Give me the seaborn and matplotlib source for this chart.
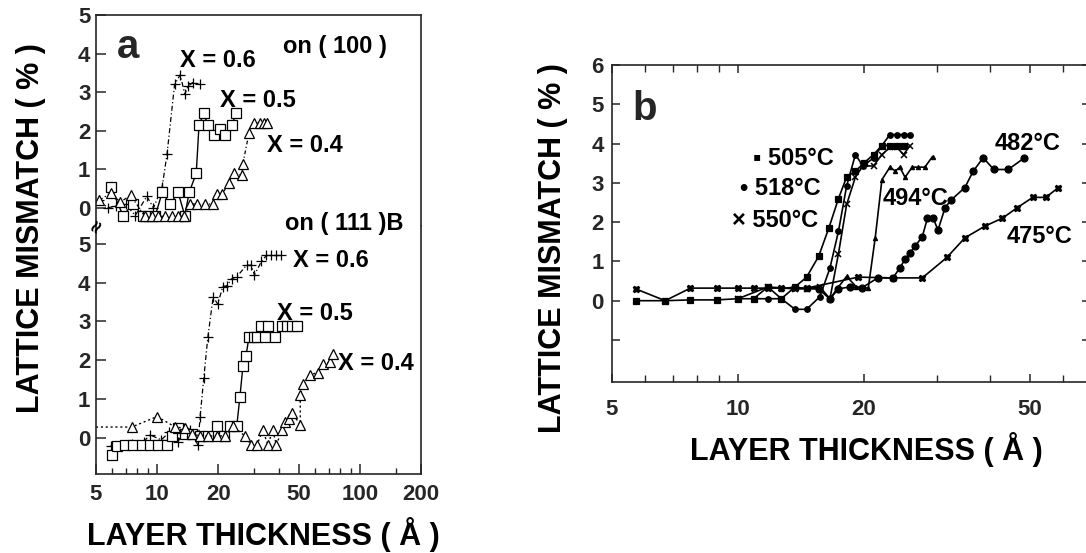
import numpy as np
import pandas as pd
import matplotlib
matplotlib.use("Agg")
import matplotlib.pyplot as plt
import seaborn as sns
from matplotlib.ticker import FixedLocator, FixedFormatter, NullFormatter

# ---------------- data: panel a, on (100) ----------------
a100_x06 = [5.2, 5.7, 6.3, 7.0, 7.8, 8.9, 9.6, 10.6, 11.2, 12.2, 13.0, 13.7, 14.2, 15.0, 16.3]
a100_y06 = [0.2, 0.0, 0.05, 0.1, -0.2, 0.3, 0.0, 0.55, 1.4, 3.2, 3.45, 2.95, 3.15, 3.25, 3.2]
a100_x05 = [5.9, 6.8, 7.6, 8.5, 9.0, 9.8, 10.6, 11.6, 12.7, 13.7, 14.4, 15.6, 16.1, 17.0, 17.8,
            19.1, 20.4, 21.6, 23.4, 24.5]
a100_y05 = [0.55, -0.2, 0.1, -0.2, -0.2, -0.2, 0.4, 0.1, 0.4, -0.2, 0.4, 0.9, 2.15, 2.45, 2.15,
            1.9, 2.05, 1.9, 2.15, 2.45]
a100_x04 = [5.2, 5.9, 6.6, 7.4, 8.7, 9.4, 10.1, 10.9, 11.8, 12.7, 13.6, 14.5, 15.7, 17.2, 18.9,
            19.7, 21.0, 22.5, 23.9, 26.2, 26.5, 28.4, 30.0, 32.0, 33.5, 35.0]
a100_y04 = [0.2, 0.38, 0.15, 0.33, -0.22, -0.22, -0.22, -0.22, -0.22, -0.22, -0.22, 0.1, 0.1, 0.1, 0.1,
            0.36, 0.36, 0.64, 0.9, 0.85, 1.15, 1.95, 2.2, 2.2, 2.2, 2.2]

# ---------------- data: panel a, on (111)B ----------------
a111_x06 = [5.9, 6.5, 7.5, 8.6, 9.2, 10.5, 11.5, 12.7, 13.6, 14.5, 15.9, 16.3, 17.0, 17.8, 18.9,
            19.9, 21.1, 22.1, 23.3, 24.7, 27.6, 29.1, 30.2, 32.7, 34.6, 36.6, 38.7, 41.0]
a111_y06 = [-0.2, -0.2, -0.15, -0.1, 0.08, -0.05, 0.15, -0.1, 0.25, 0.2, -0.18, 0.55, 1.55, 2.6, 3.63,
            3.45, 3.9, 3.92, 4.1, 4.15, 4.45, 4.45, 4.2, 4.55, 4.7, 4.7, 4.7, 4.7]
a111_x05 = [6.0, 6.35, 6.95, 7.6, 8.4, 9.2, 10.1, 11.2, 11.8, 12.7, 13.7, 14.8, 16.3, 17.8, 19.7,
            21.3, 22.9, 24.7, 25.6, 26.5, 27.4, 28.4, 30.0, 31.1, 32.4, 33.9, 35.2, 38.1, 41.3,
            43.8, 46.2, 48.9]
a111_y05 = [-0.44, -0.22, -0.18, -0.18, -0.18, -0.18, -0.18, -0.18, 0.05, 0.25, 0.1, 0.1, 0.05, 0.05, 0.3,
            0.05, 0.3, 0.3, 1.05, 1.85, 2.1, 2.6, 2.6, 2.6, 2.88, 2.6, 2.88, 2.6, 2.88,
            2.88, 2.88, 2.88]
a111_x04 = [5.0, 7.5, 10.0, 12.3, 13.7, 14.8, 16.3, 17.8, 19.7, 21.6, 23.7, 27.1, 29.1, 31.1, 33.2,
            35.2, 37.2, 38.7, 41.3, 42.7, 44.8, 46.2, 50.8, 50.8, 52.5, 56.7, 62.2, 65.8, 71.0, 73.5]
a111_y04 = [0.28, 0.28, 0.55, 0.28, 0.25, 0.1, 0.05, 0.05, 0.05, 0.05, 0.3, 0.05, -0.18, -0.18, 0.2,
            -0.18, 0.2, -0.18, 0.2, 0.4, 0.5, 0.65, 0.34, 1.1, 1.38, 1.63, 1.68, 1.9, 1.95, 2.15]

# ---------------- data: panel b (growth temperature) ----------------
b505_x = [5.7, 6.7, 7.7, 8.9, 10.0, 10.9, 11.8, 12.7, 13.7, 14.6, 15.6, 16.5, 17.4, 18.2, 19.1,
          20.0, 21.1, 22.1, 23.1, 24.0, 24.9]
b505_y = [0.0, 0.0, 0.02, 0.02, 0.05, 0.05, 0.35, 0.05, 0.35, 0.6, 1.13, 1.85, 2.6, 3.15, 3.3,
          3.5, 3.72, 3.95, 3.95, 3.95, 3.95]
b518_x = [10.9, 11.8, 12.7, 13.7, 14.6, 15.7, 16.6, 17.4, 18.2, 19.1, 19.9, 21.1, 22.1, 23.1, 24.0,
          24.9, 25.8]
b518_y = [0.05, 0.05, 0.05, -0.22, -0.22, 0.1, 0.83, 1.77, 2.92, 3.72, 3.43, 3.63, 3.95, 4.23, 4.23,
          4.23, 4.23]
b550_x = [10.0, 11.8, 13.7, 14.6, 15.7, 16.6, 17.4, 18.2, 19.1, 19.9, 21.1, 22.1, 23.1, 24.0, 24.9, 25.8]
b550_y = [0.05, 0.35, 0.3, 0.3, 0.35, 0.05, 1.2, 2.45, 3.15, 3.43, 3.43, 3.72, 3.9, 3.9, 3.72, 3.95]
b494_x = [12.7, 13.7, 14.6, 15.6, 16.6, 17.4, 18.2, 19.2, 20.5, 21.3, 22.1, 23.1, 23.8, 24.4, 25.1,
          26.1, 27.0, 28.0, 29.2]
b494_y = [0.3, 0.35, 0.3, 0.3, 0.05, 0.35, 0.62, 0.35, 0.32, 1.6, 3.08, 3.4, 3.3, 3.4, 3.14,
          3.4, 3.4, 3.4, 3.67]
b482_x = [15.6, 16.6, 17.4, 18.5, 19.8, 21.6, 23.5, 24.4, 25.1, 25.8, 26.5, 27.6, 28.4, 29.3, 30.1,
          31.3, 32.4, 34.9, 36.5, 38.6, 40.9, 44.3, 48.2]
b482_y = [0.3, 0.05, 0.3, 0.35, 0.33, 0.58, 0.58, 0.84, 1.05, 1.22, 1.38, 1.63, 2.1, 2.1, 1.8,
          2.37, 2.57, 2.88, 3.29, 3.64, 3.34, 3.34, 3.62]
b475_x = [5.7, 6.7, 7.7, 8.9, 10.0, 10.9, 11.8, 12.7, 13.7, 14.6, 19.4, 23.5, 27.6, 31.6, 34.9,
          39.0, 42.9, 46.6, 50.7, 54.5, 58.4]
b475_y = [0.3, 0.0, 0.32, 0.32, 0.32, 0.32, 0.32, 0.32, 0.32, 0.32, 0.6, 0.58, 0.58, 1.1, 1.6,
          1.9, 2.1, 2.37, 2.63, 2.63, 2.88]

a_xticks = [5, 10, 20, 50, 100, 200]
b_xticks = [5, 10, 20, 50]
a_yticks = [0, 1, 2, 3, 4, 5]
b_yticks = [0, 1, 2, 3, 4, 5, 6]

# ---------------- style ----------------
sns.set_theme(style="ticks")
plt.rcParams["font.family"] = ["Liberation Sans", "DejaVu Sans"]
plt.rcParams["font.weight"] = "bold"
plt.rcParams["axes.linewidth"] = 1.2

W, H = 1086, 553
fig = plt.figure(figsize=(W / 100, H / 100), dpi=100)
fig.patch.set_facecolor("white")


def rect(l, t, r, b):
    return [l / W, 1 - b / H, (r - l) / W, (b - t) / H]


def fx(px):
    return px / W


def fy(py):
    return 1 - py / H


ax_top = fig.add_axes(rect(96, 15, 421, 226))
ax_bot = fig.add_axes(rect(96, 226, 421, 474))
ax_b = fig.add_axes(rect(612, 65, 1090, 382))


def draw(ax, x, y, marker, ls, ms, mfc="black", lw=1.0, mew=0.9, markevery=None):
    sns.lineplot(x=x, y=y, ax=ax, estimator=None, sort=False, color="black",
                 marker=marker, linestyle=ls, markersize=ms, markerfacecolor=mfc,
                 markeredgecolor="black", markeredgewidth=mew, linewidth=lw,
                 markevery=markevery)


# panel a top (100)
draw(ax_top, a100_x06, a100_y06, "+", (0, (4, 2, 1, 2)), 7.5, lw=0.9)
draw(ax_top, a100_x05, a100_y05, "s", "-", 6.5, mfc="white", lw=1.0)
draw(ax_top, a100_x04, a100_y04, "^", (0, (3, 2, 1, 2)), 6.5, mfc="white", lw=0.9)
# panel a bottom (111)B
draw(ax_bot, a111_x06, a111_y06, "+", (0, (4, 2, 1, 2)), 7.5, lw=0.9)
draw(ax_bot, a111_x05, a111_y05, "s", "-", 6.5, mfc="white", lw=1.0)
draw(ax_bot, a111_x04, a111_y04, "^", (0, (1.5, 2)), 6.5, mfc="white", lw=1.0,
     markevery=list(range(1, len(a111_x04))))

# panel b
draw(ax_b, b505_x, b505_y, "s", "-", 4, lw=1.2)
draw(ax_b, b518_x, b518_y, "o", "-", 4, lw=1.2)
draw(ax_b, b550_x, b550_y, "x", "-", 4.5, lw=1.2, mew=1.1)
draw(ax_b, b494_x, b494_y, "^", "-", 3, lw=1.2)
draw(ax_b, b482_x, b482_y, "o", "-", 5, lw=1.2)
draw(ax_b, b475_x, b475_y, "X", "-", 5, lw=1.2)

# ---------------- axes formatting ----------------
minor_a = [6, 7, 8, 9, 30, 40, 60, 70, 80, 90, 150]
for ax in (ax_top, ax_bot):
    ax.set_xscale("log")
    ax.set_xlim(5, 200)
    ax.xaxis.set_major_locator(FixedLocator(a_xticks))
    ax.xaxis.set_minor_locator(FixedLocator(minor_a))
    ax.xaxis.set_minor_formatter(NullFormatter())
    ax.yaxis.set_major_locator(FixedLocator(a_yticks))
    ax.set_xlabel("")
    ax.set_ylabel("")
    ax.tick_params(axis="both", which="major", direction="in", length=7, width=1.1,
                   labelsize=16, pad=4, top=False, right=False)
    ax.tick_params(axis="x", which="minor", direction="in", length=4, width=1.0, top=False)
    ax.set_facecolor("white")

ax_top.set_ylim(-0.47, 5)
ax_bot.set_ylim(-0.93, 5.46)
ax_top.spines["bottom"].set_visible(False)
ax_bot.spines["top"].set_visible(False)
ax_top.tick_params(axis="x", which="both", bottom=False, labelbottom=False)
ax_bot.xaxis.set_major_formatter(FixedFormatter([str(v) for v in a_xticks]))
ax_bot.tick_params(axis="x", which="major", pad=7)
for ax in (ax_top, ax_bot):
    ax.set_yticklabels([str(v) for v in a_yticks])

ax_b.set_xscale("log")
ax_b.set_xlim(5, 69.5)
ax_b.set_ylim(-2.07, 6)
ax_b.xaxis.set_major_locator(FixedLocator(b_xticks))
ax_b.xaxis.set_major_formatter(FixedFormatter([str(v) for v in b_xticks]))
ax_b.xaxis.set_minor_locator(FixedLocator([6, 7, 8, 9, 30, 40, 60]))
ax_b.xaxis.set_minor_formatter(NullFormatter())
ax_b.yaxis.set_major_locator(FixedLocator([-1] + b_yticks))
ax_b.set_yticklabels([""] + [str(v) for v in b_yticks])
ax_b.set_xlabel("")
ax_b.set_ylabel("")
ax_b.tick_params(axis="both", which="both", direction="in", top=True, right=True)
ax_b.tick_params(axis="both", which="major", length=6, width=1.1, labelsize=16, pad=6)
ax_b.tick_params(axis="x", which="major", pad=12)
ax_b.tick_params(axis="x", which="minor", length=5, width=1.0)

for ax in (ax_top, ax_bot, ax_b):
    for lbl in ax.get_xticklabels() + ax.get_yticklabels():
        lbl.set_fontweight("bold")

# axis break mark on panel a left spine
fig.text(fx(96), fy(226), "≈", ha="center", va="center", fontsize=13, rotation=60,
         family=["DejaVu Sans"], color="black")

# ---------------- labels ----------------
lab = dict(fontsize=22, fontweight="bold", color="black")
fig.text(fx(31), fy(228), "LATTICE MISMATCH ( % )", rotation=90, ha="center", va="center", **lab)
fig.text(fx(263), fy(535), "LAYER THICKNESS ( Å )", ha="center", va="center", **lab)
fig.text(fx(553), fy(248), "LATTICE MISMATCH ( % )", rotation=90, ha="center", va="center", **lab)
fig.text(fx(866), fy(450), "LAYER THICKNESS ( Å )", ha="center", va="center", **lab)

fig.text(fx(117), fy(58), "a", ha="left", va="baseline", fontsize=29, fontweight="bold")
fig.text(fx(632), fy(120), "b", ha="left", va="baseline", fontsize=29, fontweight="bold")

ann = dict(fontsize=17, fontweight="bold", ha="left", va="baseline", color="black")
fig.text(fx(180), fy(67), "X = 0.6", **ann)
fig.text(fx(283), fy(53), "on ( 100 )", **ann)
fig.text(fx(220), fy(107), "X = 0.5", **ann)
fig.text(fx(267), fy(152), "X = 0.4", **ann)
fig.text(fx(285), fy(230), "on ( 111 )B", **ann)
fig.text(fx(293), fy(267), "X = 0.6", **ann)
fig.text(fx(277), fy(320), "X = 0.5", **ann)
fig.text(fx(338), fy(370), "X = 0.4", **ann)

annb = dict(fontsize=17, fontweight="bold", ha="left", va="baseline", color="black",
            family=["Liberation Sans", "DejaVu Sans"])
fig.text(fx(753), fy(165), "▪ 505°C", **annb)
fig.text(fx(740), fy(195), "• 518°C", **annb)
fig.text(fx(732), fy(227), "× 550°C", **annb)
fig.text(fx(883), fy(205), "494°C", **annb)
fig.text(fx(995), fy(150), "482°C", **annb)
fig.text(fx(1007), fy(243), "475°C", **annb)

fig.savefig("out.png", dpi=100, facecolor="white")
